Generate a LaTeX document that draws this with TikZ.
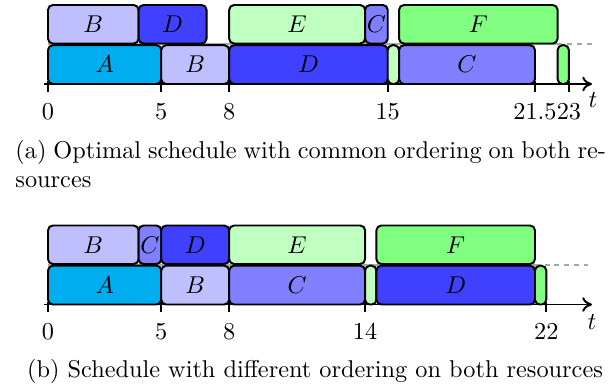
\documentclass[tikz,border=0pt]{standalone}
\usetikzlibrary{arrows.meta}
\definecolor{cA}{RGB}{0,174,239}
\colorlet{cB}{blue!25!white}
\colorlet{cC}{blue!50!white}
\colorlet{cD}{blue!75!white}
\colorlet{cE}{green!25!white}
\colorlet{cF}{green!50!white}
\tikzset{
  blk/.style={draw=black, line width=0.8pt, rounded corners=2pt},
  lbl/.style={inner sep=0pt, font=\fontsize{10}{12}\selectfont},
  axisline/.style={line width=0.8pt, -{To[length=4pt,width=6pt]}},
  tickline/.style={line width=0.8pt},
  ticklbl/.style={inner sep=0pt, anchor=base, font=\fontsize{10}{12}\selectfont},
  rowline/.style={gray!70, line width=0.8pt},
  rowdash/.style={gray!70, line width=0.8pt, dash pattern=on 2pt off 2pt},
  captxt/.style={inner sep=0pt, font=\fontsize{10}{12}\selectfont}
}
\newcommand{\tsk}[7]{%
  \pgfmathsetmacro\xa{48+22.65*#2}%
  \pgfmathsetmacro\xb{48+22.65*#3}%
  \draw[blk, fill=#6] (\xa,#4) rectangle (\xb,#5);
  \node[lbl] (#1) at ({(\xa+\xb)/2},{(#4+#5)/2}) {#7};}
\newcommand{\tck}[4]{% name, t, axis y, label
  \pgfmathsetmacro\xa{48+22.65*#2}%
  \draw[tickline] (\xa,#3-3) -- (\xa,#3+7.5);
  \node[ticklbl] (#1) at (\xa,#3+35) {#4};}
\begin{document}
\begin{tikzpicture}[x=0.4115pt, y=-0.4115pt]
\useasboundingbox (0,0) rectangle (614,387);
% ---------- chart (a) ----------
\coordinate (ra0) at (48,44.3);
\coordinate (ra1) at ({48+22.65*22.5},44.3);
\coordinate (ra2) at (592,44.3);
\draw[rowline] (ra0) -- (ra1);
\draw[rowdash] (ra1) -- (ra2);
\tsk{aB1}{0}{4}{5}{43.5}{cB}{$B$}
\tsk{aD1}{4}{7}{5}{43.5}{cD}{$D$}
\tsk{aE1}{8}{14}{5}{43.5}{cE}{$E$}
\tsk{aC1}{14}{15}{5}{43.5}{cC}{$C$}
\tsk{aF1}{15.5}{22.5}{5}{43.5}{cF}{$F$}
\tsk{aA2}{0}{5}{45.2}{84}{cA}{$A$}
\tsk{aB2}{5}{8}{45.2}{84}{cB}{$B$}
\tsk{aD2}{8}{15}{45.2}{84}{cD}{$D$}
\tsk{aE2}{15}{15.5}{45.2}{84}{cE}{}
\tsk{aC2}{15.5}{21.5}{45.2}{84}{cC}{$C$}
\tsk{aF2}{22.5}{23}{45.2}{84}{cF}{}
\coordinate (axa0) at (44,84);
\coordinate (axa1) at (592,84);
\draw[axisline] (axa0) -- (axa1);
\node[lbl] (ta) at (593,100) {$t$};
\tck{ka0}{0}{84}{0}
\tck{ka5}{5}{84}{5}
\tck{ka8}{8}{84}{8}
\tck{ka15}{15}{84}{15}
\tck{ka21}{21.5}{84}{21.5}
\tck{ka23}{23}{84}{23}
\node[captxt, anchor=base west] (capa1) at (15,158) {\makebox[243pt][s]{(a) Optimal schedule with common ordering on both re-}};
\node[captxt, anchor=base west] (capa2) at (15,187) {sources};
% ---------- chart (b) ----------
\coordinate (rb0) at (48,264.8);
\coordinate (rb1) at ({48+22.65*21.5},264.8);
\coordinate (rb2) at (592,264.8);
\draw[rowline] (rb0) -- (rb1);
\draw[rowdash] (rb1) -- (rb2);
\tsk{bB1}{0}{4}{225.5}{264}{cB}{$B$}
\tsk{bC1}{4}{5}{225.5}{264}{cC}{$C$}
\tsk{bD1}{5}{8}{225.5}{264}{cD}{$D$}
\tsk{bE1}{8}{14}{225.5}{264}{cE}{$E$}
\tsk{bF1}{14.5}{21.5}{225.5}{264}{cF}{$F$}
\tsk{bA2}{0}{5}{265.7}{304.5}{cA}{$A$}
\tsk{bB2}{5}{8}{265.7}{304.5}{cB}{$B$}
\tsk{bC2}{8}{14}{265.7}{304.5}{cC}{$C$}
\tsk{bE2}{14}{14.5}{265.7}{304.5}{cE}{}
\tsk{bD2}{14.5}{21.5}{265.7}{304.5}{cD}{$D$}
\tsk{bF2}{21.5}{22}{265.7}{304.5}{cF}{}
\coordinate (axb0) at (44,304.5);
\coordinate (axb1) at (592,304.5);
\draw[axisline] (axb0) -- (axb1);
\node[lbl] (tb) at (592,322) {$t$};
\tck{kb0}{0}{304.5}{0}
\tck{kb5}{5}{304.5}{5}
\tck{kb8}{8}{304.5}{8}
\tck{kb14}{14}{304.5}{14}
\tck{kb22}{22}{304.5}{22}
\node[captxt, anchor=base] (capb) at (315,377) {(b) Schedule with different ordering on both resources};
\end{tikzpicture}
\end{document}
